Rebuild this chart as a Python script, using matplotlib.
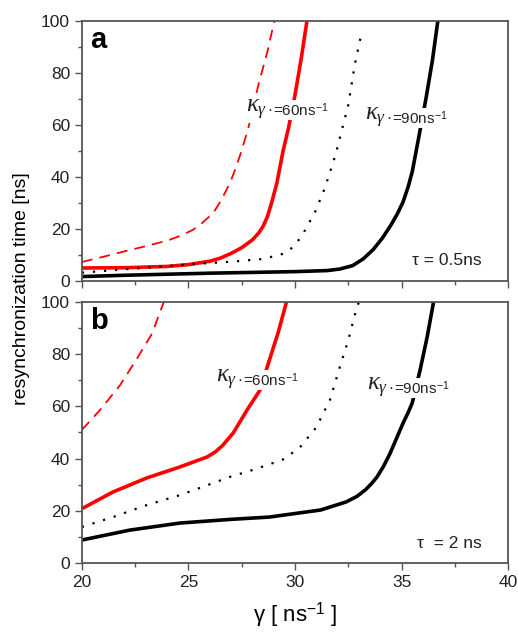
import matplotlib.pyplot as plt
from matplotlib.ticker import MultipleLocator

plt.rcParams['font.family'] = ['Liberation Sans', 'DejaVu Sans']
plt.rcParams['mathtext.fontset'] = 'custom'
plt.rcParams['mathtext.rm'] = 'Liberation Sans'
plt.rcParams['mathtext.it'] = 'Liberation Serif:italic'
plt.rcParams['mathtext.bf'] = 'Liberation Sans:bold'

# ---- panel a (tau = 0.5 ns) ----
a_red_dash_x = [20, 21, 22, 23, 24, 24.6, 25.2, 25.6, 26.15, 26.5, 26.95, 27.2, 27.45, 27.8, 28.3, 28.7, 29.03]
a_red_dash_y = [7.3, 9.3, 11.4, 13.4, 15.5, 17.3, 19.6, 22, 26, 30.5, 37.7, 43, 49, 58.5, 76, 88, 100]

a_red_x = [20, 22, 24, 25, 26, 26.5, 27, 27.5, 28, 28.3, 28.5, 28.7, 28.9, 29.15, 29.44, 29.7, 30.0, 30.3, 30.56]
a_red_y = [5.0, 5.1, 5.6, 6.3, 7.6, 8.8, 10.6, 12.8, 15.8, 18.5, 21, 24.6, 30, 37.7, 50, 59, 71.5, 86, 100]

a_dot_x = [20, 22, 23.7, 25, 27, 28.4, 29.3, 29.6, 29.9, 30.15, 30.4, 30.94, 31.4, 31.9, 32.5, 32.8, 33.15]
a_dot_y = [3.2, 4.5, 5.5, 6.4, 7.4, 8.4, 10, 11.2, 13, 15.5, 18.5, 26.5, 35.7, 48.5, 67.7, 83, 96.5]

a_blk_x = [20, 22, 24, 26, 28, 30, 31.5, 32.1, 32.7, 33.2, 33.66, 34.1, 34.5, 34.8, 35.07, 35.3, 35.5, 35.8, 36.15, 36.45, 36.7]
a_blk_y = [1.7, 2.2, 2.6, 3.0, 3.3, 3.6, 4.0, 4.6, 5.9, 8.5, 12.0, 16.5, 21.5, 25.8, 30.4, 36, 42, 55, 70.4, 85, 100]

# ---- panel b (tau = 2 ns) ----
b_red_dash_x = [20, 20.85, 21.8, 22.6, 23.3, 23.75, 23.85]
b_red_dash_y = [51, 58.6, 68.2, 78.5, 88, 98, 100]

b_red_x = [20, 21.46, 23.05, 24.6, 25.87, 26.25, 26.6, 27.1, 27.75, 28.36, 28.8, 29.2, 29.6]
b_red_y = [20.8, 27.2, 32.6, 36.8, 40.6, 42.5, 45, 49.8, 58.6, 66.3, 77.8, 88, 100]

b_dot_x = [20, 21.46, 23.05, 24.6, 26.15, 26.95, 28.0, 29.4, 30.2, 31.0, 31.64, 32.1, 32.5, 32.9, 33.0]
b_dot_y = [13.8, 17.6, 22.2, 26, 30.6, 33, 35.6, 39.5, 44, 52, 62.5, 75, 85.4, 98, 100]

b_blk_x = [20, 22.25, 24.6, 26.95, 28.8, 31.2, 32.4, 32.9, 33.3, 33.6, 33.85, 34.15, 34.46, 34.75, 35.07,
           35.3, 35.5, 35.87, 36.2, 36.5]
b_blk_y = [8.8, 12.6, 15.3, 16.7, 17.6, 20.3, 23.4, 25.5, 28, 30.5, 33, 37, 42, 47.5, 53.6,
           57.5, 61.3, 74, 86.6, 100]

# label anchors (data coords)
a_labels = [(27.7, 65.8, '60'), (33.3, 62.7, '90')]
b_labels = [(26.3, 70.1, '60'), (33.4, 67.0, '90')]

spine_col = '#555555'
text_col = '#222222'

fig = plt.figure(figsize=(5.18, 6.35), dpi=100)
ax_a = fig.add_axes([0.158, 0.5575, 0.823, 0.4095])
ax_b = fig.add_axes([0.158, 0.1134, 0.823, 0.411])


def draw_panel(ax, rd, r, d, k):
    ax.plot(rd[0], rd[1], color='red', lw=1.3, dashes=(6, 4))
    ax.plot(r[0], r[1], color='red', lw=2.6, solid_capstyle='butt', solid_joinstyle='round')
    ax.plot(d[0], d[1], color='black', lw=1.6, dashes=(1, 4))
    ax.plot(k[0], k[1], color='black', lw=2.6, solid_capstyle='butt', solid_joinstyle='round')
    ax.set_xlim(20, 40)
    ax.set_ylim(0, 100)
    ax.xaxis.set_major_locator(MultipleLocator(5))
    ax.xaxis.set_minor_locator(MultipleLocator(2.5))
    ax.yaxis.set_major_locator(MultipleLocator(20))
    ax.yaxis.set_minor_locator(MultipleLocator(10))
    ax.tick_params(which='both', direction='out', color=spine_col, top=False, right=False)
    ax.tick_params(which='major', length=5, width=1, labelsize=12.5, labelcolor=text_col)
    ax.tick_params(which='minor', length=3, width=1)
    for s in ax.spines.values():
        s.set_color(spine_col)
        s.set_linewidth(1.3)


def kappa_label(ax, x, y, val):
    t = ax.text(x, y, r'$\mathit{\kappa}_{\mathit{\gamma}\cdot}$', fontsize=18, va='center', ha='left',
                color=text_col, zorder=5,
                bbox=dict(facecolor='white', edgecolor='none', pad=0.5))
    ax.annotate('=' + val + r'ns$^{-1}$', xy=(1, 0.5), xycoords=t, va='center', ha='left',
                fontsize=11, color=text_col, zorder=5,
                bbox=dict(facecolor='white', edgecolor='none', pad=0.5))


draw_panel(ax_a, (a_red_dash_x, a_red_dash_y), (a_red_x, a_red_y),
           (a_dot_x, a_dot_y), (a_blk_x, a_blk_y))
draw_panel(ax_b, (b_red_dash_x, b_red_dash_y), (b_red_x, b_red_y),
           (b_dot_x, b_dot_y), (b_blk_x, b_blk_y))

ax_a.tick_params(labelbottom=False)

for x, y, v in a_labels:
    kappa_label(ax_a, x, y, v)
for x, y, v in b_labels:
    kappa_label(ax_b, x, y, v)

ax_a.text(0.02, 0.98, 'a', transform=ax_a.transAxes, fontsize=21, fontweight='bold',
          va='top', ha='left')
ax_b.text(0.02, 0.98, 'b', transform=ax_b.transAxes, fontsize=21, fontweight='bold',
          va='top', ha='left')

ax_a.text(35.5, 8, 'τ = 0.5ns', fontsize=12.5, va='center', ha='left', color=text_col)
ax_b.text(35.7, 7.6, 'τ  = 2 ns', fontsize=12.5, va='center', ha='left', color=text_col)

ax_b.set_xlabel(r'γ [ ns$^{-1}$ ]', fontsize=16, labelpad=8)
fig.text(0.042, 0.545, 'resynchronization time [ns]', rotation=90, fontsize=14,
         va='center', ha='center')

fig.savefig('out.png', dpi=100)
